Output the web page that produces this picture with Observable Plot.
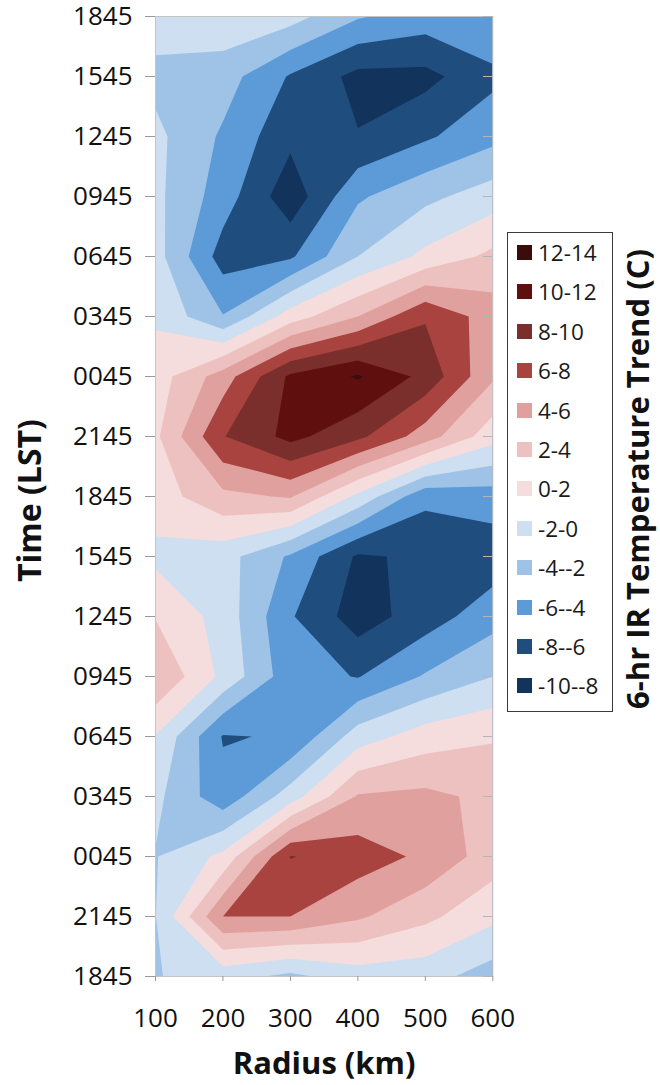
<!DOCTYPE html>
<html>
<head>
<meta charset="utf-8">
<script src="https://cdn.jsdelivr.net/npm/d3@7"></script>
<script src="https://cdn.jsdelivr.net/npm/@observablehq/plot@0.6"></script>
<style>
  body { margin: 0; background: #fff; }
  #wrap { position: relative; width: 660px; height: 1085px; font-family: "Open Sans", sans-serif; }
  #legend { position: absolute; left: 507px; top: 232px; width: 106px; height: 480px;
            border: 1.5px solid #3a3a3a; box-sizing: border-box; background: #fff; }
  .item { position: absolute; left: 9px; height: 24px; display: flex; align-items: center;
          font-size: 22.5px; color: #1a1a1a; white-space: nowrap; }
  .sw { width: 15px; height: 15px; margin-right: 6px; flex: none; }
</style>
</head>
<body>
<div id="wrap"></div>
<script>
// Radius columns (km) and time rows (hours after the first 1845 LST, every 3 h)
const radius = [100, 200, 300, 400, 500, 600];
const hours = [0, 3, 6, 9, 12, 15, 18, 21, 24, 27, 30, 33, 36, 39, 42, 45, 48];
const timeLabels = ["1845", "2145", "0045", "0345", "0645", "0945", "1245", "1545",
                    "1845", "2145", "0045", "0345", "0645", "0945", "1245", "1545", "1845"];

// 6-hr IR temperature trend (C) at each radius, from the first 1845 upward
const r100 = [-2.1, -2.05, -2.1, -1.5, -0.1, 3.9, 1.9, -0.5, 1.0, 1.6, 1.0, -0.3, -1.2, -1.5, -1.5, -2.6, -0.9];
const r200 = [-1.2, 6.0, 0.5, -5.3, -6.15, -0.5, -0.8, -1.2, 3.5, 7.9, 5.0, -3.9, -6.9, -5.0, -4.3, -3.1, -0.5];
const r300 = [-2.5, 6.0, 8.1, -1.0, -5.8, -5.2, -5.8, -4.3, 4.2, 10.6, 10.4, 1.0, -6.3, -9.3, -7.5, -6.2, -1.2];
const r400 = [-1.0, 4.3, 7.0, 4.2, -1.0, -6.1, -9.0, -8.3, -0.5, 8.5, 12.2, 4.0, -2.0, -4.3, -7.9, -8.6, -3.8];
const r500 = [-1.2, 2.5, 5.6, 4.5, 1.0, -3.8, -7.0, -7.6, -5.5, 5.0, 9.4, 7.8, 0.5, -2.5, -6.3, -8.6, -4.9];
const r600 = [-3.0, 0.5, 3.0, 3.5, 1.8, -2.0, -4.8, -7.2, -5.0, 0.8, 4.3, 5.0, 2.5, -1.0, -4.6, -6.5, -4.1];

// Contour bands: lower bound, label and colour
const bandFloors = [-10, -8, -6, -4, -2, 0, 2, 4, 6, 8, 10, 12];
const bandLabels = ["-10--8", "-8--6", "-6--4", "-4--2", "-2-0", "0-2", "2-4", "4-6", "6-8", "8-10", "10-12", "12-14"];
const bandColors = ["#12335b", "#1f4e7e", "#5d9ad8", "#9fc3e7", "#cddff1", "#f4dddc",
                    "#edc1c0", "#e0a19e", "#a9433f", "#7b2f2d", "#600f0f", "#3c0b0b"];

// Row-major grid (rows = time, columns = radius) for the contour mark
const columns = [r100, r200, r300, r400, r500, r600];
const grid = hours.flatMap((h, i) => columns.map(col => col[i]));

const chart = Plot.plot({
  width: 660,
  height: 1085,
  marginLeft: 155,
  marginRight: 167.7,
  marginTop: 16,
  marginBottom: 109,
  style: { fontFamily: "'Open Sans', sans-serif", fontSize: "26px", color: "#111", background: "transparent" },
  x: { domain: [100, 600] },
  y: { domain: [0, 48] },
  color: { type: "ordinal", domain: bandFloors, range: bandColors },
  marks: [
    Plot.contour(grid, {
      width: radius.length,
      height: hours.length,
      x1: 50, x2: 650,
      y1: -1.5, y2: 49.5,
      fill: Plot.identity,
      thresholds: bandFloors,
      clip: true
    }),
    Plot.frame({ stroke: "#c4c4c4" }),
    Plot.tickY(hours, { y: d => d, insetLeft: 328, stroke: "#b5b5b5" }),
    Plot.axisX({ ticks: radius, tickSize: 5, tickPadding: 27, stroke: "#9a9a9a", fill: "#111", label: null }),
    Plot.axisY({ ticks: hours, tickSize: 10, tickPadding: 13, stroke: "#9a9a9a", fill: "#111", label: null,
                 tickFormat: d => timeLabels[hours.indexOf(d)] }),
    Plot.text(["Time (LST)"], { text: d => d, frameAnchor: "left", dx: -124.5, dy: 4, rotate: -90,
                                textAnchor: "middle", lineAnchor: "middle",
                                fontSize: 32, fontWeight: "bold", fill: "#111" }),
    Plot.text(["Radius (km)"], { text: d => d, frameAnchor: "bottom", dy: 88,
                                 textAnchor: "middle", lineAnchor: "middle",
                                 fontSize: 31, fontWeight: "bold", fill: "#111" }),
    Plot.text(["6-hr IR Temperature Trend (C)"], { text: d => d, frameAnchor: "right", dx: 146.7, dy: -17.5,
                                                   rotate: -90, textAnchor: "middle", lineAnchor: "middle",
                                                   fontSize: 31, fontWeight: "bold", fill: "#111" })
  ]
});

const wrap = document.getElementById("wrap");
wrap.appendChild(chart);

// Legend box: highest band at the top
const legend = document.createElement("div");
legend.id = "legend";
const color = chart.scale("color");
bandFloors.slice().reverse().forEach((floor, k) => {
  const item = document.createElement("div");
  item.className = "item";
  item.style.top = (21 - 12 + k * 39.4 - 1.5) + "px";
  const sw = document.createElement("span");
  sw.className = "sw";
  sw.style.background = color.apply(floor);
  const label = document.createElement("span");
  label.textContent = bandLabels[bandFloors.indexOf(floor)];
  item.appendChild(sw);
  item.appendChild(label);
  legend.appendChild(item);
});
wrap.appendChild(legend);
</script>
</body>
</html>
